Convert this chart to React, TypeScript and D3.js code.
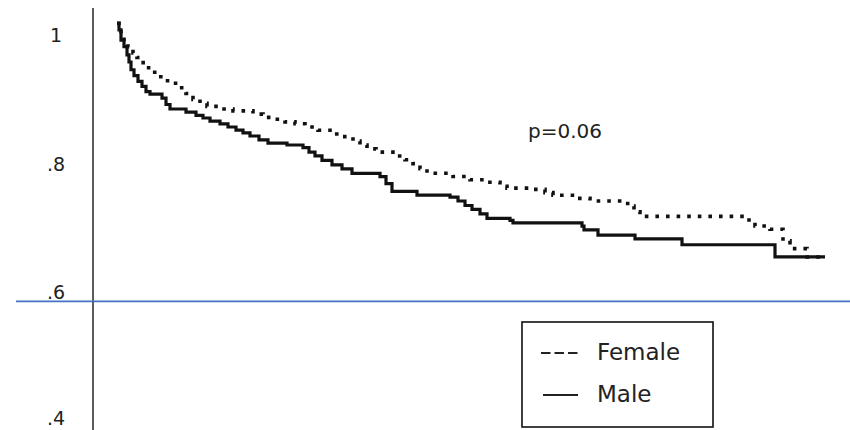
import React from "react";
import * as d3 from "d3";

// ---- data ----
const maleTime = [0, 0.4, 0.8, 1.4, 2, 2.4, 2.8, 3.4, 4.2, 5, 5.8, 6.6, 9, 9.8, 10.6, 13.8, 15.8, 17.2, 18.6, 20.6, 22.2, 23.8, 25.2, 26.6, 28.4, 30.2, 34, 37.2, 38.4, 39.6, 41, 43, 45, 47, 52.6, 53.8, 55, 60, 66.6, 68.2, 69.6, 71, 72.6, 74, 78.6, 79.2, 93, 93.4, 96.2, 103.6, 113, 131.6, 141.6];
const maleSurv = [1.018, 1.008, 0.992, 0.982, 0.969, 0.958, 0.946, 0.937, 0.928, 0.92, 0.912, 0.908, 0.902, 0.892, 0.885, 0.88, 0.875, 0.871, 0.866, 0.862, 0.857, 0.852, 0.848, 0.843, 0.837, 0.832, 0.829, 0.825, 0.818, 0.812, 0.805, 0.798, 0.792, 0.785, 0.78, 0.769, 0.757, 0.751, 0.748, 0.742, 0.735, 0.729, 0.722, 0.715, 0.712, 0.708, 0.703, 0.697, 0.689, 0.683, 0.674, 0.655, 0.655];

const femaleTime = [0, 0.4, 0.8, 1.4, 2.2, 3.2, 4, 4.8, 5.8, 6.8, 8, 9.2, 10.6, 12.2, 13.8, 15.2, 16.6, 18, 20.6, 23.2, 27.2, 29.2, 31.2, 33.6, 35.6, 37.6, 40.2, 42.6, 45, 47.2, 48.6, 50, 51.8, 56, 57.6, 59.2, 60.6, 62, 67.2, 70.6, 74, 76.6, 78, 83.2, 85.6, 87.2, 91.6, 94.6, 101.6, 102.6, 103.4, 104.6, 126.4, 127.6, 130.6, 133.2, 134.6, 138, 141.6];
const femaleSurv = [1.018, 1.008, 0.998, 0.989, 0.982, 0.972, 0.965, 0.957, 0.949, 0.942, 0.935, 0.929, 0.925, 0.918, 0.909, 0.9, 0.894, 0.889, 0.885, 0.882, 0.877, 0.872, 0.869, 0.865, 0.862, 0.857, 0.852, 0.846, 0.842, 0.835, 0.829, 0.823, 0.818, 0.812, 0.806, 0.8, 0.792, 0.785, 0.78, 0.775, 0.771, 0.765, 0.762, 0.76, 0.755, 0.751, 0.746, 0.742, 0.738, 0.734, 0.725, 0.718, 0.709, 0.703, 0.698, 0.68, 0.668, 0.655, 0.655];

const yTicks = [1, 0.8, 0.6, 0.4];
const yTickLabels = ["1", ".8", ".6", ".4"];
const refLineValue = 0.586;
const pValueText = "p=0.06";
const legendLabels = ["Female", "Male"];

// ---- layout ----
const W = 850;
const H = 430;
const axisX = 93;
const FONT = "'DejaVu Sans', sans-serif";

export default function App() {
  const x = d3.scaleLinear().domain([0, 141.6]).range([117, 825]);
  const y = d3.scaleLinear().domain([0.4, 1]).range([421, 35]);

  const line = d3
    .line<[number, number]>()
    .x((d) => x(d[0]))
    .y((d) => y(d[1]))
    .curve(d3.curveStepAfter);

  const male = maleTime.map((t, i) => [t, maleSurv[i]] as [number, number]);
  const female = femaleTime.map((t, i) => [t, femaleSurv[i]] as [number, number]);

  return (
    <svg
      width={W}
      height={H}
      style={{ position: "absolute", left: 0, top: 0, background: "#fff" }}
    >
      <rect x={0} y={0} width={W} height={H} fill="#fff" />
      {/* y axis */}
      <line x1={axisX} x2={axisX} y1={8} y2={H} stroke="#333" strokeWidth={1.6} />
      {yTicks.map((v, i) => (
        <text
          key={i}
          x={56}
          y={Math.min(y(v), H - 12)}
          dy="0.36em"
          textAnchor="middle"
          fontFamily={FONT}
          fontSize={19}
          fill="#222"
        >
          {yTickLabels[i]}
        </text>
      ))}
      {/* reference line */}
      <line x1={16} x2={W} y1={y(refLineValue)} y2={y(refLineValue)} stroke="#4472c4" strokeWidth={1.6} />
      {/* curves */}
      <path
        d={line(female) || ""}
        fill="none"
        stroke="#111"
        strokeWidth={3.6}
        strokeDasharray="3.6 7"
      />
      <path d={line(male) || ""} fill="none" stroke="#111" strokeWidth={3.2} />
      {/* p-value */}
      <text x={528} y={138} fontFamily={FONT} fontSize={20} fill="#222">
        {pValueText}
      </text>
      {/* legend */}
      <rect x={522} y={322} width={191} height={105} fill="#fff" stroke="#111" strokeWidth={1.6} />
      <line x1={541} x2={578} y1={353} y2={353} stroke="#222" strokeWidth={1.8} strokeDasharray="9.5 4" />
      <text x={597} y={360} fontFamily={FONT} fontSize={23} fill="#222">
        {legendLabels[0]}
      </text>
      <line x1={543} x2={578} y1={395} y2={395} stroke="#222" strokeWidth={1.8} />
      <text x={597} y={402} fontFamily={FONT} fontSize={23} fill="#222">
        {legendLabels[1]}
      </text>
    </svg>
  );
}
